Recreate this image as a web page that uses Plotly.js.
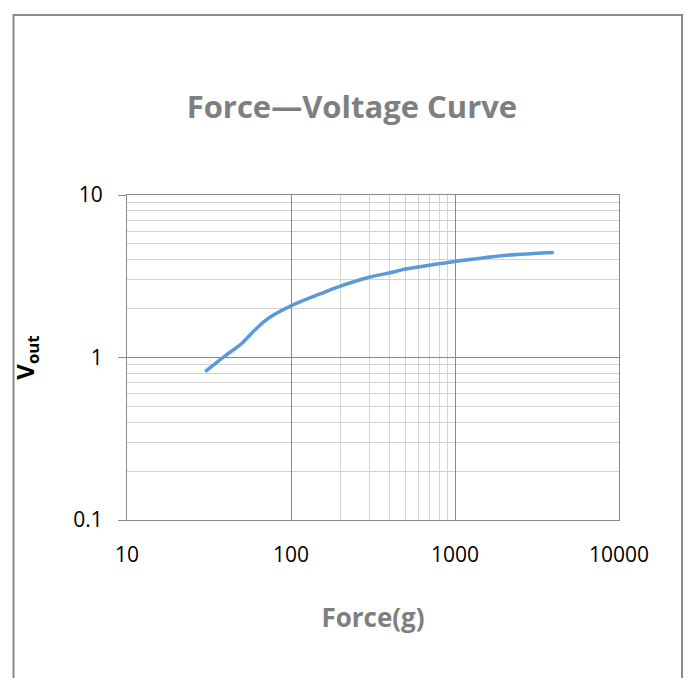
<!DOCTYPE html>
<html>
<head>
<meta charset="utf-8">
<script src="https://cdn.plot.ly/plotly-3.0.1.min.js"></script>
<style>html,body{margin:0;padding:0;background:#fff;}#chart{width:686px;height:678px;}</style>
</head>
<body>
<div id="chart"></div>
<script>
var force = [30, 40, 50, 60, 70, 80, 100, 150, 200, 300, 400, 500, 700, 1000, 2000, 3000, 4000];
var vout  = [0.82, 1.03, 1.22, 1.47, 1.69, 1.85, 2.08, 2.46, 2.75, 3.12, 3.32, 3.5, 3.7, 3.9, 4.25, 4.36, 4.42];
var xTickVals = [10, 100, 1000, 10000];
var xTickText = ['10', '100', '1000', '10000'];
var xMinorVals = [200, 300, 400, 500, 600, 700, 800, 900];
var yTickVals = [0.1, 1, 10];
var yTickText = ['0.1', '1', '10'];
var yMinorVals = [0.2, 0.3, 0.4, 0.5, 0.6, 0.7, 0.8, 0.9, 2, 3, 4, 5, 6, 7, 8, 9];

var FONT = 'Open Sans, Lato, sans-serif';
var trace = {
  x: force, y: vout, type: 'scatter', mode: 'lines',
  line: {color: '#5b9bd5', width: 3.5, shape: 'spline', smoothing: 1},
  hoverinfo: 'skip'
};
var layout = {
  width: 686, height: 678,
  margin: {l: 127, r: 67, t: 195, b: 158},
  paper_bgcolor: '#ffffff', plot_bgcolor: '#ffffff',
  showlegend: false,
  font: {family: FONT, color: '#000000'},
  title: {text: '<b>Force\u2014Voltage Curve</b>', x: 0.513, xref: 'container', xanchor: 'center',
          y: 0.842, yref: 'container', yanchor: 'middle',
          font: {family: FONT, size: 31, color: '#7f7f7f'}},
  xaxis: {
    type: 'log', range: [1, 4], tickmode: 'array', tickvals: xTickVals, ticktext: xTickText,
    showgrid: true, gridcolor: '#8a8a8a', gridwidth: 1,
    minor: {tickmode: 'array', tickvals: xMinorVals, showgrid: true, gridcolor: '#d3d3d3', gridwidth: 1, ticks: ''},
    showline: true, linecolor: '#8a8a8a', linewidth: 1, mirror: true,
    ticks: '', ticklabelstandoff: 16, zeroline: false,
    tickfont: {family: FONT, size: 21, color: '#000'},
    title: {text: '<b>Force(g)</b>', standoff: 41, font: {family: FONT, size: 26, color: '#7f7f7f'}}
  },
  yaxis: {
    type: 'log', range: [-1, 1], tickmode: 'array', tickvals: yTickVals, ticktext: yTickText,
    showgrid: true, gridcolor: '#8a8a8a', gridwidth: 1,
    minor: {tickmode: 'array', tickvals: yMinorVals, showgrid: true, gridcolor: '#d3d3d3', gridwidth: 1, ticks: ''},
    showline: true, linecolor: '#8a8a8a', linewidth: 1, mirror: true,
    ticks: 'outside', ticklen: 8, tickcolor: '#8a8a8a', ticklabelstandoff: 11, zeroline: false,
    tickfont: {family: FONT, size: 21, color: '#000'},
    title: {text: '<b>V<sub>out</sub></b>', standoff: 31, font: {family: FONT, size: 24, color: '#000'}}
  },
  shapes: [{
    type: 'rect', xref: 'paper', yref: 'paper',
    x0: (13.5 - 127) / 492, x1: (682 - 127) / 492,
    y0: (520 - 700) / 325, y1: (520 - 15) / 325,
    line: {color: '#8c8c8c', width: 2}, fillcolor: 'rgba(0,0,0,0)', layer: 'below'
  }]
};
Plotly.newPlot('chart', [trace], layout, {displayModeBar: false, staticPlot: true});
</script>
</body>
</html>
